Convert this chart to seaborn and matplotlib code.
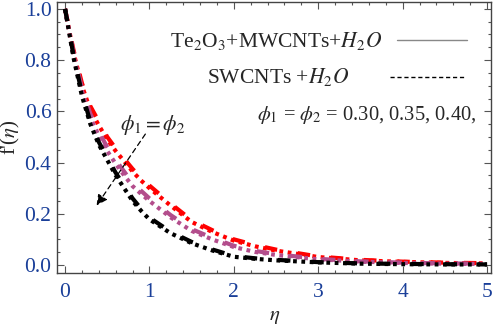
import numpy as np
import matplotlib
matplotlib.use('Agg')
import matplotlib.pyplot as plt
import seaborn as sns

# 数据
eta = [0, 0.1, 0.2, 0.3, 0.4, 0.5, 0.6, 0.7, 0.8, 0.9, 1.0,
       1.25, 1.5, 1.75, 2.0, 2.25, 2.5, 3.0, 3.5, 4.0, 4.5, 5.0]

# Te2O3+MWCNTs+H2O, phi = 0.30, 0.35, 0.40
mw_030 = [1.0, 0.84, 0.71, 0.62, 0.56, 0.50, 0.455, 0.415, 0.375, 0.34, 0.31,
          0.24, 0.175, 0.135, 0.10, 0.078, 0.06, 0.033, 0.02, 0.013, 0.009, 0.007]
mw_035 = [1.0, 0.83, 0.69, 0.59, 0.52, 0.46, 0.41, 0.365, 0.32, 0.29, 0.26,
          0.195, 0.14, 0.105, 0.075, 0.055, 0.042, 0.024, 0.014, 0.009, 0.006, 0.005]
mw_040 = [1.0, 0.82, 0.67, 0.56, 0.48, 0.42, 0.36, 0.31, 0.26, 0.22, 0.185,
          0.13, 0.09, 0.06, 0.035, 0.026, 0.02, 0.011, 0.006, 0.004, 0.003, 0.002]

# SWCNTs+H2O
sw_030 = [1.0, 0.83, 0.70, 0.605, 0.545, 0.49, 0.445, 0.405, 0.365, 0.33, 0.30,
          0.232, 0.168, 0.128, 0.095, 0.073, 0.056, 0.031, 0.018, 0.012, 0.008, 0.006]
sw_035 = [1.0, 0.82, 0.68, 0.575, 0.505, 0.445, 0.395, 0.35, 0.308, 0.278, 0.25,
          0.186, 0.133, 0.099, 0.07, 0.051, 0.039, 0.022, 0.013, 0.008, 0.005, 0.004]
sw_040 = [1.0, 0.81, 0.66, 0.55, 0.47, 0.41, 0.35, 0.30, 0.25, 0.212, 0.178,
          0.124, 0.085, 0.056, 0.032, 0.024, 0.018, 0.01, 0.005, 0.003, 0.002, 0.002]

colors = ['#ff0000', '#b34d8c', '#000000']

sns.set_style('ticks')
plt.rcParams['font.family'] = ['Liberation Serif', 'DejaVu Serif']
plt.rcParams['mathtext.fontset'] = 'stix'

fig = plt.figure(figsize=(4.98, 3.28), dpi=100)
ax = fig.add_axes([0.1145, 0.168, 0.872, 0.826])

for mw, sw, c in zip([mw_030, mw_035, mw_040], [sw_030, sw_035, sw_040], colors):
    sns.lineplot(x=eta, y=mw, ax=ax, color=c, lw=3.0, linestyle=(0, (3, 5)))
    sns.lineplot(x=eta, y=sw, ax=ax, color=c, lw=3.0, linestyle=(0, (0.9, 1.1)))

ax.set_xlim(-0.095, 5.05)
ax.set_ylim(-0.031, 1.027)
ax.set_xticks([0, 1, 2, 3, 4, 5])
ax.set_yticks([0.0, 0.2, 0.4, 0.6, 0.8, 1.0])
ax.set_yticklabels(['0.0', '0.2', '0.4', '0.6', '0.8', '1.0'])
ax.set_xticks(np.arange(0, 5.01, 0.2), minor=True)
ax.set_yticks(np.arange(0, 1.01, 0.05), minor=True)
ax.tick_params(which='both', direction='in', top=True, right=True,
               colors='#555555', labelcolor='#1a3f99', labelsize=15.5, width=0.8)
ax.tick_params(which='major', length=5)
ax.tick_params(which='minor', length=2.5)
ax.tick_params(axis='x', pad=7)
ax.tick_params(axis='y', pad=4)
for s in ax.spines.values():
    s.set_color('#444444')
    s.set_linewidth(1.0)

ax.set_xlabel(r'$\eta$', fontsize=15, labelpad=4)
ax.set_ylabel(r"f'($\eta$)", fontsize=15, labelpad=2)

# 图例文字与线
ax.text(1.24, 0.875, r'Te$_2$O$_3$+MWCNTs+$H_2O$', fontsize=15.5, va='center')
ax.plot([3.93, 4.76], [0.88, 0.88], color='#888888', lw=1)
ax.text(1.68, 0.735, r'SWCNTs +$H_2O$', fontsize=15.5, va='center')
ax.plot([3.85, 4.75], [0.735, 0.735], color='black', lw=1, linestyle=(0, (3, 2)))
ax.text(2.28, 0.585, r'$\phi_1$ = $\phi_2$ = 0.30, 0.35, 0.40,', fontsize=14.8, va='center')
ax.text(0.65, 0.545, r'$\phi_1 = \phi_2$', fontsize=15.5, va='center')

# 箭头
ax.annotate('', xy=(0.355, 0.223), xytext=(0.97, 0.52),
            arrowprops=dict(arrowstyle='-|>', color='black', lw=0.9,
                            linestyle=(0, (4, 3)), mutation_scale=16))

fig.savefig('out.png', dpi=100)
